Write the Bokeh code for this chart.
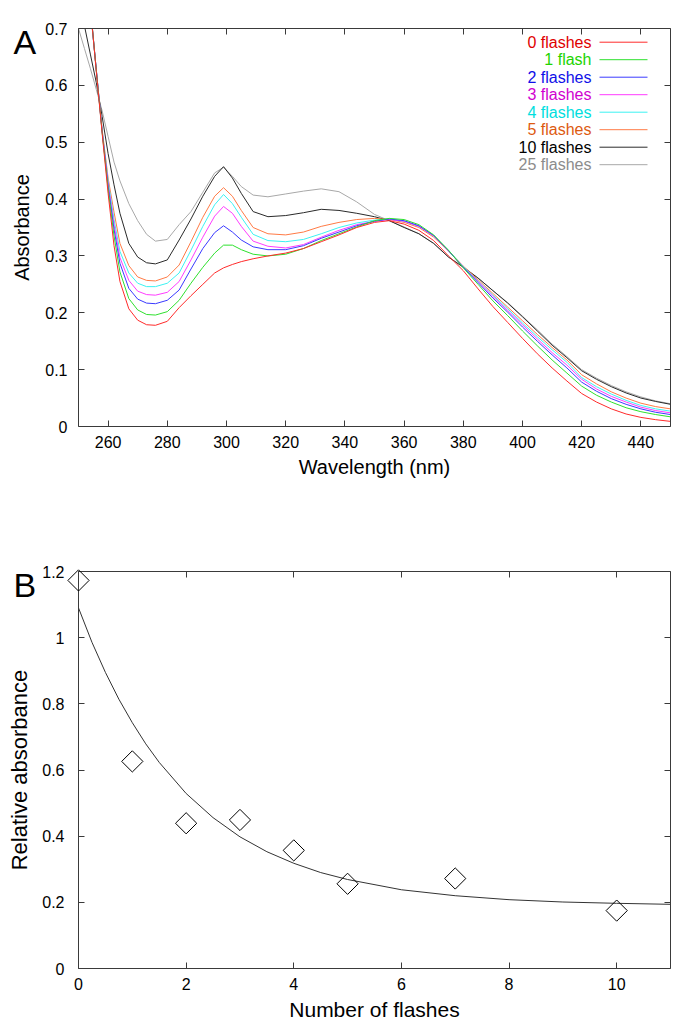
import numpy as np
from bokeh.plotting import figure
from bokeh.models import LinearAxis, FixedTicker, PrintfTickFormatter, Range1d
from bokeh.layouts import column
from bokeh.embed import file_html
from bokeh.resources import INLINE
from bokeh.core.properties import value

FONT = "Liberation Sans"

# ---------------- Panel A data ----------------
WAVELENGTH = [250, 252, 254, 256, 258, 260, 262, 264, 267, 270, 273, 276, 280,
              284, 288, 292, 296, 299, 302, 305, 309, 314, 320,
              326, 332, 338, 344, 350, 355, 360, 365, 370, 375,
              380, 385, 390, 395, 400, 405, 410, 415, 420, 425,
              430, 435, 440, 445, 450]

FLASH_0 = [0.98, 0.86, 0.74, 0.625, 0.515, 0.410, 0.318, 0.255, 0.207, 0.187, 0.179, 0.178, 0.185,
           0.209, 0.230, 0.250, 0.270, 0.279, 0.285, 0.290, 0.295, 0.300, 0.305,
           0.313, 0.325, 0.337, 0.350, 0.359, 0.362, 0.356, 0.345, 0.327, 0.300,
           0.274, 0.242, 0.211, 0.183, 0.155, 0.128, 0.103, 0.080, 0.058, 0.043,
           0.031, 0.022, 0.016, 0.012, 0.009]
FLASH_1 = [0.98, 0.86, 0.74, 0.627, 0.517, 0.418, 0.335, 0.272, 0.225, 0.205, 0.197, 0.196, 0.202,
           0.222, 0.252, 0.280, 0.305, 0.319, 0.319, 0.311, 0.303, 0.300, 0.303,
           0.313, 0.327, 0.339, 0.351, 0.362, 0.366, 0.364, 0.355, 0.337, 0.310,
           0.279, 0.250, 0.221, 0.195, 0.168, 0.142, 0.117, 0.094, 0.071, 0.055,
           0.043, 0.033, 0.026, 0.021, 0.017]
FLASH_2 = [0.97, 0.855, 0.738, 0.628, 0.518, 0.423, 0.347, 0.287, 0.243, 0.224, 0.217, 0.216, 0.222,
           0.240, 0.277, 0.313, 0.341, 0.353, 0.342, 0.328, 0.316, 0.311, 0.311,
           0.318, 0.331, 0.342, 0.353, 0.361, 0.365, 0.362, 0.353, 0.336, 0.309,
           0.280, 0.253, 0.226, 0.201, 0.175, 0.150, 0.126, 0.103, 0.078, 0.062,
           0.049, 0.039, 0.031, 0.025, 0.021]
FLASH_3 = [0.97, 0.855, 0.738, 0.628, 0.519, 0.427, 0.355, 0.297, 0.257, 0.238, 0.232, 0.231, 0.236,
           0.255, 0.293, 0.333, 0.370, 0.387, 0.375, 0.352, 0.326, 0.317, 0.314,
           0.320, 0.333, 0.345, 0.355, 0.361, 0.364, 0.361, 0.352, 0.335, 0.309,
           0.280, 0.255, 0.229, 0.204, 0.179, 0.154, 0.130, 0.108, 0.083, 0.066,
           0.053, 0.043, 0.034, 0.028, 0.024]
FLASH_4 = [0.96, 0.85, 0.735, 0.628, 0.520, 0.432, 0.364, 0.308, 0.270, 0.252, 0.246, 0.246, 0.252,
           0.270, 0.310, 0.352, 0.390, 0.408, 0.392, 0.368, 0.338, 0.327, 0.325,
           0.329, 0.339, 0.350, 0.358, 0.363, 0.365, 0.361, 0.352, 0.335, 0.310,
           0.281, 0.256, 0.231, 0.207, 0.182, 0.158, 0.135, 0.113, 0.086, 0.070,
           0.057, 0.046, 0.037, 0.031, 0.027]
FLASH_5 = [0.96, 0.85, 0.735, 0.628, 0.522, 0.437, 0.377, 0.322, 0.283, 0.263, 0.257, 0.256, 0.263,
           0.284, 0.325, 0.368, 0.405, 0.420, 0.405, 0.380, 0.350, 0.339, 0.337,
           0.342, 0.352, 0.359, 0.364, 0.366, 0.364, 0.359, 0.350, 0.333, 0.309,
           0.282, 0.258, 0.234, 0.210, 0.186, 0.162, 0.139, 0.117, 0.091, 0.075,
           0.061, 0.050, 0.041, 0.035, 0.031]
FLASH_10 = [0.76, 0.705, 0.655, 0.605, 0.545, 0.480, 0.425, 0.375, 0.322, 0.298, 0.288, 0.286, 0.293,
            0.328, 0.365, 0.405, 0.440, 0.457, 0.437, 0.410, 0.378, 0.369, 0.371,
            0.376, 0.382, 0.380, 0.375, 0.369, 0.362, 0.350, 0.339, 0.322, 0.298,
            0.280, 0.261, 0.239, 0.217, 0.193, 0.168, 0.143, 0.121, 0.098, 0.083,
            0.070, 0.059, 0.050, 0.044, 0.039]
FLASH_25 = [0.70, 0.665, 0.630, 0.593, 0.555, 0.510, 0.465, 0.432, 0.392, 0.362, 0.338, 0.326, 0.329,
            0.355, 0.378, 0.412, 0.446, 0.456, 0.440, 0.422, 0.407, 0.404, 0.409,
            0.414, 0.418, 0.413, 0.395, 0.373, 0.362, 0.351, 0.339, 0.322, 0.298,
            0.281, 0.261, 0.239, 0.218, 0.194, 0.170, 0.145, 0.123, 0.100, 0.085,
            0.072, 0.061, 0.052, 0.045, 0.040]

SERIES = [FLASH_0, FLASH_1, FLASH_2, FLASH_3, FLASH_4, FLASH_5, FLASH_10, FLASH_25]
SERIES_LABELS = ["0 flashes", "1 flash", "2 flashes", "3 flashes", "4 flashes",
                 "5 flashes", "10 flashes", "25 flashes"]
LINE_COLORS = ["#ff2a2a", "#2ee02e", "#3a3aff", "#ff3cff", "#3cf2f2", "#ff7a45", "#2a2a2a", "#a8a8a8"]
TEXT_COLORS = ["#e00000", "#22d400", "#1010e8", "#d000d0", "#00dede", "#dd5a10", "#000000", "#8c8c8c"]

A_XTICKS = [260, 280, 300, 320, 340, 360, 380, 400, 420, 440]
A_YTICKS = [0, 0.1, 0.2, 0.3, 0.4, 0.5, 0.6, 0.7]

# ---------------- Panel B data ----------------
FLASH_COUNT = [0, 1, 2, 3, 4, 5, 7, 10]
REL_ABS = [1.173, 0.626, 0.439, 0.449, 0.357, 0.256, 0.272, 0.175]
FIT_X = [0, 0.25, 0.5, 0.75, 1, 1.25, 1.5, 2, 2.5, 3, 3.5, 4, 4.5, 5, 6, 7, 8, 9, 10, 11]
FIT_Y = [1.090, 0.986, 0.895, 0.814, 0.743, 0.679, 0.623, 0.529, 0.456, 0.398, 0.353,
         0.318, 0.290, 0.269, 0.238, 0.220, 0.208, 0.201, 0.197, 0.194]
B_XTICKS = [0, 2, 4, 6, 8, 10]
B_YTICKS = [0, 0.2, 0.4, 0.6, 0.8, 1.0, 1.2]

AXIS_COLOR = "#3a3a3a"
FRAME_W = 592


def style(p, xticks, yticks, xlabel, ylabel, ylab_standoff, yaxis_standoff, xsize, ysize):
    p.xgrid.visible = False
    p.ygrid.visible = False
    p.outline_line_color = None
    for ax, ticks in ((p.xaxis[0], xticks), (p.yaxis[0], yticks)):
        ax.ticker = FixedTicker(ticks=ticks)
        ax.formatter = PrintfTickFormatter(format="%g")
        ax.major_tick_in = 6
        ax.major_tick_out = 0
        ax.minor_tick_in = 0
        ax.minor_tick_out = 0
        ax.axis_line_color = AXIS_COLOR
        ax.major_tick_line_color = AXIS_COLOR
        ax.major_label_text_font = FONT
        ax.major_label_text_font_size = "16px"
        ax.major_label_text_color = "#000000"
        ax.axis_label_text_font = FONT
        ax.axis_label_text_font_style = "normal"
        ax.axis_label_text_color = "#000000"
    p.xaxis[0].axis_label = xlabel
    p.yaxis[0].axis_label = ylabel
    p.xaxis[0].axis_label_text_font_size = xsize
    p.yaxis[0].axis_label_text_font_size = ysize
    p.xaxis[0].major_label_standoff = 9
    p.xaxis[0].axis_label_standoff = 5
    p.yaxis[0].major_label_standoff = ylab_standoff
    p.yaxis[0].axis_label_standoff = yaxis_standoff
    for loc, ticks in (("above", xticks), ("right", yticks)):
        ax = LinearAxis(ticker=FixedTicker(ticks=ticks),
                        major_label_text_color=None, major_label_text_font_size="1px",
                        major_tick_in=6, major_tick_out=0, minor_tick_in=0, minor_tick_out=0,
                        axis_line_color=AXIS_COLOR, major_tick_line_color=AXIS_COLOR,
                        major_label_standoff=0)
        p.add_layout(ax, loc)


def panel_letter(p, letter, x0, x1, y_top, y_span, frame_h):
    # letter placed 65 px left of the frame, top roughly level with the frame top
    lx = x0 - 65 * (x1 - x0) / FRAME_W
    ly = y_top - 13 * y_span / frame_h
    p.text(x=[lx], y=[ly], text=[letter], text_font=value(FONT), text_font_size="34px",
           text_baseline="alphabetic", text_align="left", text_color="#000000",
           level="overlay")


# ---------------- Panel A ----------------
pA = figure(frame_width=FRAME_W, frame_height=398, x_range=Range1d(250, 450), y_range=Range1d(0, 0.7),
            output_backend="svg", toolbar_location=None,
            min_border_left=78, min_border_right=10, min_border_top=28, min_border_bottom=80)
style(pA, A_XTICKS, A_YTICKS, "Wavelength (nm)", "Absorbance", 11, 9, "20px", "20px")

for ys, col in reversed(list(zip(SERIES, LINE_COLORS))):
    pA.line(WAVELENGTH, ys, line_color=col, line_width=1)

# legend (drawn manually: coloured text, right-aligned, sample line on the right)
fh = 398.0
def ax_x(fx):
    return 250 + fx * 200.0 / FRAME_W
def ax_y(fy_from_top):
    return 0.7 - fy_from_top * 0.7 / fh

n = len(SERIES_LABELS)
row_y = [ax_y(13.7 + 17.5 * i) for i in range(n)]
pA.text(x=[ax_x(513)] * n, y=row_y, text=SERIES_LABELS, text_color=TEXT_COLORS,
        text_align="right", text_baseline="middle", text_font=value(FONT), text_font_size="16px")
pA.segment(x0=[ax_x(521)] * n, y0=row_y, x1=[ax_x(569)] * n, y1=row_y,
           line_color=LINE_COLORS, line_width=1)

panel_letter(pA, "A", 250, 450, 0.7, 0.7, 398.0)

# ---------------- Panel B ----------------
pB = figure(frame_width=FRAME_W, frame_height=397, x_range=Range1d(0, 11), y_range=Range1d(0, 1.2),
            output_backend="svg", toolbar_location=None,
            min_border_left=78, min_border_right=10, min_border_top=65, min_border_bottom=50)
style(pB, B_XTICKS, B_YTICKS, "Number of flashes", "Relative absorbance", 14, 7, "21px", "22px")

pB.line(FIT_X, FIT_Y, line_color="#333333", line_width=1)
pB.scatter(FLASH_COUNT, REL_ABS, marker="square", angle=np.pi / 4, size=15,
           fill_color=None, line_color="#000000", line_width=1, level="overlay")

panel_letter(pB, "B", 0, 11, 1.2, 1.2, 397.0)

layout = column(pA, pB)
open("out.html", "w").write(file_html(layout, INLINE))
